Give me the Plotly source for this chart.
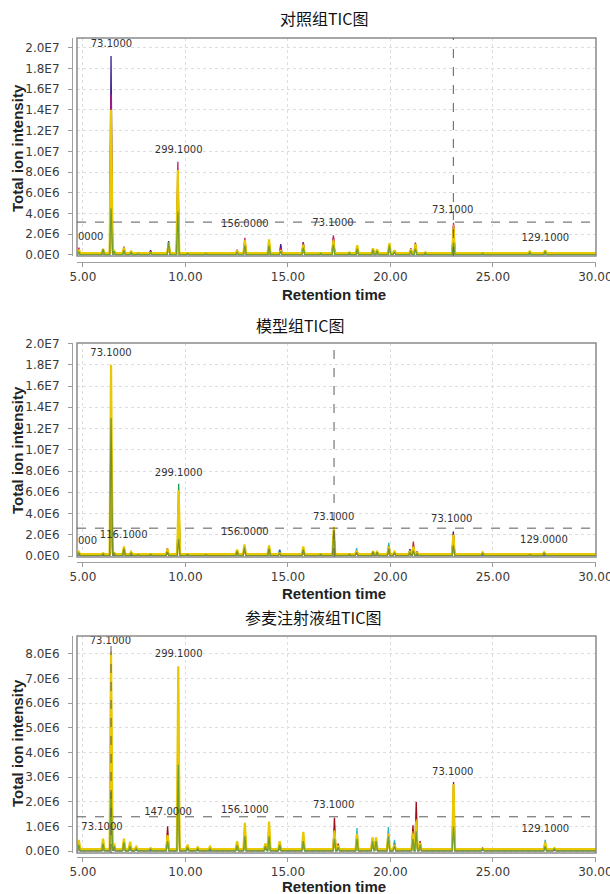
import plotly.graph_objects as go

# ---------------------------------------------------------------------------
# Data: peak retention times (min) and peak intensities (x 1e6 counts)
# ---------------------------------------------------------------------------

# 对照组 (control group)
ctrl_rt = [4.80, 5.98, 6.37, 6.52, 7.00, 7.35, 7.70, 8.30, 9.18, 9.63, 10.10, 11.00,
           12.52, 12.90, 14.08, 14.65, 15.75, 16.60, 17.22, 18.00, 18.38, 19.15, 19.35,
           19.95, 20.20, 21.00, 21.22, 21.70, 23.08, 24.50, 26.80, 27.55]
ctrl_purple = [0.35, 0.20, 19.2, 0.30, 0.55, 0.20, 0.10, 0.45, 1.35, 7.40, 0.12, 0.10,
               0.30, 1.20, 0.90, 1.05, 1.25, 0.15, 1.60, 0.12, 0.45, 0.35, 0.30,
               0.70, 0.25, 0.45, 0.95, 0.15, 2.70, 0.15, 0.20, 0.25]
ctrl_magenta = [0.70, 0.30, 15.5, 0.35, 0.80, 0.30, 0.15, 0.35, 1.00, 9.00, 0.15, 0.12,
                0.50, 1.65, 1.10, 0.70, 1.20, 0.15, 1.90, 0.18, 0.60, 0.45, 0.40,
                0.80, 0.30, 0.65, 1.20, 0.20, 2.90, 0.15, 0.25, 0.30]
ctrl_red = [0.40, 0.25, 12.0, 0.30, 0.50, 0.25, 0.10, 0.30, 0.90, 7.00, 0.12, 0.10,
            0.35, 1.30, 1.00, 0.50, 0.90, 0.12, 1.70, 0.15, 0.50, 0.40, 0.30,
            0.70, 0.25, 0.50, 1.00, 0.15, 3.10, 0.20, 0.20, 0.25]
ctrl_cyan = [0.20, 0.20, 8.00, 0.25, 0.35, 0.20, 0.10, 0.20, 0.70, 5.50, 0.10, 0.10,
             0.25, 0.80, 0.70, 0.40, 0.60, 0.10, 1.20, 0.12, 0.50, 0.30, 0.25,
             0.80, 0.30, 0.40, 0.80, 0.12, 1.60, 0.10, 0.15, 0.20]
ctrl_orange = [0.55, 0.45, 12.5, 0.35, 0.60, 0.30, 0.15, 0.25, 1.00, 7.80, 0.15, 0.12,
               0.40, 1.45, 1.35, 0.40, 0.90, 0.15, 1.50, 0.20, 0.80, 0.55, 0.45,
               1.00, 0.40, 0.50, 1.00, 0.20, 2.90, 0.20, 0.30, 0.40]
ctrl_yellow = [0.50, 0.60, 14.0, 0.40, 0.70, 0.35, 0.15, 0.25, 1.20, 8.20, 0.20, 0.15,
               0.35, 1.40, 1.50, 0.45, 1.00, 0.18, 1.40, 0.25, 0.95, 0.65, 0.55,
               1.15, 0.45, 0.55, 1.05, 0.25, 2.60, 0.20, 0.35, 0.45]
ctrl_green = [0.30, 0.55, 4.50, 0.35, 0.45, 0.25, 0.12, 0.20, 1.25, 4.20, 0.15, 0.12,
              0.25, 0.90, 0.90, 0.35, 0.70, 0.15, 1.00, 0.20, 0.60, 0.50, 0.40,
              0.90, 0.30, 0.40, 0.60, 0.20, 1.20, 0.15, 0.25, 0.35]
ctrl_base = [0.06, 0.08, 0.07, 0.05, 0.10, 0.18, 0.03]
ctrl_threshold = 3.17
ctrl_cursor = 23.07
ctrl_lbl_rt = [6.39, 9.67, 12.90, 17.20, 23.04, 27.56]
ctrl_lbl_val = [20.30, 10.10, 2.90, 3.00, 4.25, 1.55]
ctrl_lbl_text = ["73.1000", "299.1000", "156.0000", "73.1000", "73.1000", "129.1000"]
ctrl_edge_lbl = ("0000", 1.80)

# 模型组 (model group)
model_rt = [4.80, 5.98, 6.37, 6.52, 7.00, 7.35, 7.70, 8.30, 9.12, 9.67, 10.10, 11.00,
            12.52, 12.88, 14.08, 14.60, 15.75, 16.60, 17.24, 18.00, 18.35, 19.15, 19.35,
            19.92, 20.20, 20.95, 21.12, 21.30, 23.07, 24.50, 26.80, 27.50]
model_navy = [0.20, 0.10, 10.0, 0.20, 0.40, 0.15, 0.10, 0.15, 0.40, 5.00, 0.10, 0.10,
              0.30, 0.70, 0.80, 0.30, 0.60, 0.10, 2.00, 0.10, 0.30, 0.20, 0.20,
              0.50, 0.20, 0.65, 0.80, 0.20, 2.30, 0.15, 0.10, 0.15]
model_red = [0.25, 0.15, 11.0, 0.20, 0.45, 0.20, 0.10, 0.15, 0.75, 5.20, 0.10, 0.10,
             0.35, 0.80, 0.85, 0.25, 0.65, 0.10, 2.20, 0.10, 0.30, 0.25, 0.25,
             0.55, 0.20, 0.50, 1.35, 0.45, 2.10, 0.20, 0.10, 0.20]
model_cyan = [0.20, 0.10, 9.00, 0.20, 0.40, 0.15, 0.10, 0.10, 0.40, 4.80, 0.10, 0.10,
              0.25, 0.60, 0.60, 0.55, 0.50, 0.10, 1.80, 0.10, 0.75, 0.25, 0.25,
              1.25, 0.40, 0.40, 0.70, 0.20, 1.60, 0.15, 0.10, 0.15]
model_blue = [0.15, 0.10, 8.00, 0.15, 0.30, 0.10, 0.10, 0.10, 0.30, 4.00, 0.10, 0.10,
              0.20, 0.50, 0.50, 0.60, 0.40, 0.10, 1.50, 0.10, 0.40, 0.20, 0.20,
              0.70, 0.25, 0.35, 0.60, 0.15, 1.40, 0.10, 0.10, 0.10]
model_teal = [0.25, 0.15, 12.0, 0.25, 0.60, 0.25, 0.10, 0.15, 0.50, 6.80, 0.12, 0.10,
              0.40, 0.90, 0.80, 0.30, 0.70, 0.12, 2.40, 0.12, 0.40, 0.30, 0.25,
              1.00, 0.30, 0.40, 0.80, 0.20, 1.80, 0.20, 0.12, 0.20]
model_orange = [0.30, 0.20, 14.0, 0.25, 0.70, 0.30, 0.12, 0.20, 0.75, 5.80, 0.15, 0.12,
                0.45, 1.00, 0.95, 0.25, 0.80, 0.15, 2.50, 0.15, 0.40, 0.35, 0.30,
                0.80, 0.30, 0.45, 0.90, 0.25, 1.90, 0.25, 0.12, 0.25]
model_yellow = [0.40, 0.25, 18.0, 0.30, 0.90, 0.40, 0.15, 0.20, 0.60, 6.20, 0.20, 0.15,
                0.60, 1.10, 1.00, 0.25, 0.90, 0.20, 2.75, 0.20, 0.50, 0.45, 0.40,
                0.90, 0.40, 0.40, 0.85, 0.30, 2.00, 0.35, 0.15, 0.35]
model_olive = [0.30, 0.20, 13.0, 0.30, 0.70, 0.30, 0.12, 0.15, 0.40, 1.60, 0.15, 0.12,
               0.45, 0.80, 0.70, 0.20, 0.60, 0.15, 2.40, 0.15, 0.35, 0.40, 0.35,
               0.70, 0.30, 0.30, 0.50, 0.25, 1.00, 0.25, 0.12, 0.30]
model_base = [0.05, 0.06, 0.05, 0.05, 0.08, 0.10, 0.18, 0.04]
model_threshold = 2.62
model_cursor = 17.25
model_lbl_rt = [6.37, 6.99, 9.67, 12.90, 17.23, 22.99, 27.49]
model_lbl_val = [19.10, 1.95, 7.80, 2.20, 3.65, 3.45, 1.45]
model_lbl_text = ["73.1000", "116.1000", "299.1000", "156.0000", "73.1000", "73.1000", "129.0000"]
model_edge_lbl = ("000", 1.50)

# 参麦注射液组 (Shenmai injection group)
shen_rt = [4.80, 5.98, 6.37, 6.52, 7.00, 7.30, 7.60, 8.30, 9.13, 9.65, 10.10, 10.60,
           11.20, 12.52, 12.90, 13.90, 14.08, 14.60, 15.75, 17.27, 17.45, 18.37, 19.13,
           19.30, 19.90, 20.20, 21.10, 21.26, 21.45, 23.08, 24.50, 27.55, 28.00]
shen_darkred = [0.10, 0.10, 3.00, 0.10, 0.20, 0.10, 0.05, 0.05, 1.00, 3.00, 0.10, 0.05,
                0.05, 0.15, 0.50, 0.10, 0.50, 0.15, 0.40, 1.35, 0.30, 0.40, 0.30,
                0.30, 0.50, 0.20, 1.05, 2.00, 0.40, 2.80, 0.12, 0.15, 0.05]
shen_cyan = [0.15, 0.15, 2.50, 0.10, 0.20, 0.10, 0.05, 0.05, 0.40, 2.50, 0.10, 0.05,
             0.05, 0.15, 0.40, 0.10, 0.40, 0.20, 0.40, 0.70, 0.15, 0.93, 0.35,
             0.35, 0.98, 0.45, 0.50, 0.90, 0.20, 1.50, 0.05, 0.45, 0.10]
shen_blue = [0.10, 0.10, 2.00, 0.10, 0.15, 0.08, 0.05, 0.05, 0.30, 2.00, 0.08, 0.05,
             0.05, 0.12, 0.20, 0.08, 0.20, 0.10, 0.25, 0.40, 0.10, 0.50, 0.20,
             0.20, 0.60, 0.30, 0.40, 0.60, 0.15, 1.20, 0.05, 0.20, 0.05]
shen_orange = [0.40, 0.45, 8.10, 0.30, 0.50, 0.35, 0.15, 0.10, 0.65, 7.20, 0.25, 0.12,
               0.15, 0.40, 1.10, 0.30, 1.15, 0.35, 0.75, 0.85, 0.25, 0.65, 0.55,
               0.55, 0.70, 0.25, 0.80, 1.30, 0.35, 2.72, 0.10, 0.30, 0.10]
shen_yellow = [0.45, 0.50, 8.00, 0.30, 0.50, 0.38, 0.18, 0.12, 0.65, 7.50, 0.25, 0.15,
               0.18, 0.40, 1.15, 0.30, 1.20, 0.40, 0.78, 0.80, 0.20, 0.70, 0.55,
               0.55, 0.70, 0.25, 0.70, 1.20, 0.30, 2.70, 0.10, 0.35, 0.12]
shen_green = [0.25, 0.30, 2.40, 0.20, 0.35, 0.20, 0.10, 0.08, 0.40, 3.50, 0.15, 0.10,
              0.10, 0.25, 0.60, 0.20, 0.60, 0.25, 0.40, 0.50, 0.15, 0.50, 0.40,
              0.40, 0.60, 0.20, 0.50, 0.80, 0.25, 1.00, 0.08, 0.20, 0.10]
shen_base = [0.02, 0.03, 0.02, 0.05, 0.08, 0.01]
shen_threshold = 1.39
shen_cursor = 6.37
shen_lbl_rt = [6.34, 9.67, 5.93, 9.15, 12.90, 17.23, 23.04, 27.56]
shen_lbl_val = [8.52, 7.97, 0.95, 1.55, 1.64, 1.84, 3.18, 0.88]
shen_lbl_text = ["73.1000", "299.1000", "73.1000", "147.0000", "156.1000", "73.1000", "73.1000", "129.1000"]

# Axis ticks
x_ticks = [5, 10, 15, 20, 25, 30]
x_ticktext = ["5.00", "10.00", "15.00", "20.00", "25.00", "30.00"]
y_ticks_big = [0, 2e6, 4e6, 6e6, 8e6, 1e7, 1.2e7, 1.4e7, 1.6e7, 1.8e7, 2e7]
y_ticktext_big = ["0.0E0", "2.0E6", "4.0E6", "6.0E6", "8.0E6", "1.0E7",
                  "1.2E7", "1.4E7", "1.6E7", "1.8E7", "2.0E7"]
y_ticks_small = [0, 1e6, 2e6, 3e6, 4e6, 5e6, 6e6, 7e6, 8e6]
y_ticktext_small = ["0.0E0", "1.0E6", "2.0E6", "3.0E6", "4.0E6", "5.0E6",
                    "6.0E6", "7.0E6", "8.0E6"]

titles = ["对照组TIC图", "模型组TIC图", "参麦注射液组TIC图"]

# ---------------------------------------------------------------------------
# Drawing
# ---------------------------------------------------------------------------
W, H = 610, 894
SCALE = 1e6
HW = 0.07            # half base width of each drawn spike (min)
X_START, X_END = 4.55, 30.2
X_RANGE = [4.71, 30.03]

C = {
    "purple": "#3b1f8e", "magenta": "#c4187c", "red": "#c0282c", "darkred": "#9a0e1c",
    "cyan": "#34b6c6", "blue": "#2a58c0", "navy": "#24187a", "teal": "#1e9a52",
    "orange": "#e39a1a", "yellow": "#e8c800", "green": "#72a030", "olive": "#7c9228",
}


def chromatogram(rt, heights, base):
    xs, ys = [X_START], [base]
    for t, h in zip(rt, heights):
        xs += [t - HW, t, t + HW]
        ys += [base, max(h, base), base]
    xs.append(X_END)
    ys.append(base)
    return xs, [v * SCALE for v in ys]


def px_x(p):
    return p / W


def px_y(p):
    return 1 - p / H


panels = [
    dict(rt=ctrl_rt,
         series=[("purple", ctrl_purple), ("magenta", ctrl_magenta), ("red", ctrl_red),
                 ("cyan", ctrl_cyan), ("orange", ctrl_orange), ("yellow", ctrl_yellow),
                 ("green", ctrl_green)],
         base=ctrl_base, thr=ctrl_threshold, cur=ctrl_cursor,
         lbl=(ctrl_lbl_rt, ctrl_lbl_val, ctrl_lbl_text), edge=ctrl_edge_lbl,
         box=(38, 256), axis_y=262, yr=[-0.1e6, 2.093e7],
         yt=(y_ticks_big, y_ticktext_big),
         title_y=18, title_x=324, xt_y=294, yt_y=148),
    dict(rt=model_rt,
         series=[("navy", model_navy), ("red", model_red), ("cyan", model_cyan),
                 ("blue", model_blue), ("teal", model_teal), ("orange", model_orange),
                 ("yellow", model_yellow), ("olive", model_olive)],
         base=model_base, thr=model_threshold, cur=model_cursor,
         lbl=(model_lbl_rt, model_lbl_val, model_lbl_text), edge=model_edge_lbl,
         box=(343, 557), axis_y=562, yr=[-0.094e6, 2.005e7],
         yt=(y_ticks_big, y_ticktext_big),
         title_y=325, title_x=300, xt_y=593, yt_y=450),
    dict(rt=shen_rt,
         series=[("darkred", shen_darkred), ("cyan", shen_cyan), ("blue", shen_blue),
                 ("orange", shen_orange), ("yellow", shen_yellow), ("green", shen_green)],
         base=shen_base, thr=shen_threshold, cur=shen_cursor,
         lbl=(shen_lbl_rt, shen_lbl_val, shen_lbl_text), edge=None,
         box=(636, 853), axis_y=857, yr=[-0.08e6, 8.73e6],
         yt=(y_ticks_small, y_ticktext_small),
         title_y=617, title_x=313, xt_y=886, yt_y=743),
]

fig = go.Figure()
layout = dict(
    width=W, height=H, margin=dict(l=0, r=0, t=0, b=0, autoexpand=False),
    paper_bgcolor="white", plot_bgcolor="white", showlegend=False,
    shapes=[], annotations=[],
)

tick_font = dict(family="DejaVu Sans", size=12, color="#3a3a3a")
label_font = dict(family="DejaVu Sans", size=10, color="#333333")
axis_title_font = dict(family="Liberation Sans", size=15, color="#222222")

for i, p in enumerate(panels, start=1):
    xa = "x" if i == 1 else f"x{i}"
    ya = "y" if i == 1 else f"y{i}"
    top, bottom = p["box"]

    for (cname, vals), base in zip(p["series"], p["base"]):
        xs, ys = chromatogram(p["rt"], vals, base)
        width = 2.2 if cname == "yellow" else 1.3
        fig.add_trace(go.Scatter(x=xs, y=ys, mode="lines", xaxis=xa, yaxis=ya,
                                 line=dict(color=C[cname], width=width),
                                 hoverinfo="skip", cliponaxis=True))

    # m/z labels of the main ions
    lrt, lval, ltxt = p["lbl"]
    fig.add_trace(go.Scatter(x=lrt, y=[v * SCALE for v in lval], text=ltxt,
                             mode="text", textposition="middle center",
                             textfont=label_font, xaxis=xa, yaxis=ya,
                             hoverinfo="skip", cliponaxis=False))
    if p["edge"] is not None:
        etxt, eval_ = p["edge"]
        layout["annotations"].append(dict(
            text=etxt, xref=xa, yref=ya, x=X_RANGE[0], y=eval_ * SCALE,
            xanchor="left", yanchor="middle", showarrow=False, borderpad=0,
            font=label_font))

    layout[f"xaxis{'' if i == 1 else i}"] = dict(
        domain=[px_x(77), px_x(596)], range=X_RANGE,
        anchor="free", position=px_y(p["axis_y"]),
        tickvals=x_ticks, ticktext=x_ticktext, tickfont=tick_font,
        ticks="outside", ticklen=4, tickcolor="#9a9a9a", ticklabeloverflow="allow",
        showline=True, linecolor="#a0a0a0", linewidth=1,
        showgrid=True, gridcolor="#dedede", griddash="dot", gridwidth=1,
        zeroline=False, fixedrange=True, automargin=False,
    )
    layout[f"yaxis{'' if i == 1 else i}"] = dict(
        domain=[px_y(bottom), px_y(top)], range=p["yr"],
        anchor="free", position=px_x(72),
        tickvals=p["yt"][0], ticktext=p["yt"][1], tickfont=tick_font,
        ticks="outside", ticklen=4, tickcolor="#9a9a9a", ticklabelstandoff=6,
        showline=True, linecolor="#a0a0a0", linewidth=1,
        showgrid=True, gridcolor="#dedede", griddash="dot", gridwidth=1,
        zeroline=False, fixedrange=True, automargin=False,
    )

    # plot frame
    layout["shapes"].append(dict(type="rect", xref=f"{xa} domain", yref=f"{ya} domain",
                                 x0=0, x1=1, y0=0, y1=1,
                                 line=dict(color="#8a8a8a", width=1.5), layer="above"))
    # intensity threshold and cursor
    layout["shapes"].append(dict(type="line", xref=f"{xa} domain", yref=ya,
                                 x0=0, x1=1, y0=p["thr"] * SCALE, y1=p["thr"] * SCALE,
                                 line=dict(color="#5a5a5a", width=1, dash="dash")))
    layout["shapes"].append(dict(type="line", xref=xa, yref=f"{ya} domain",
                                 x0=p["cur"], x1=p["cur"], y0=0, y1=1,
                                 line=dict(color="#5a5a5a", width=1, dash="dash")))

    # titles
    layout["annotations"].append(dict(
        text=titles[i - 1], xref="paper", yref="paper",
        x=px_x(p["title_x"]), y=px_y(p["title_y"]), xanchor="center", yanchor="middle",
        showarrow=False, font=dict(family="Noto Sans CJK SC", size=16, color="#111111")))
    layout["annotations"].append(dict(
        text="<b>Retention time</b>", xref="paper", yref="paper",
        x=px_x(334), y=px_y(p["xt_y"]), xanchor="center", yanchor="middle",
        height=15, valign="middle",
        showarrow=False, font=axis_title_font))
    layout["annotations"].append(dict(
        text="<b>Total ion intensity</b>", xref="paper", yref="paper",
        x=px_x(17), y=px_y(p["yt_y"]), xanchor="center", yanchor="middle",
        textangle=-90, showarrow=False, font=axis_title_font))

fig.update_layout(**layout)
fig.write_html("out.html")
